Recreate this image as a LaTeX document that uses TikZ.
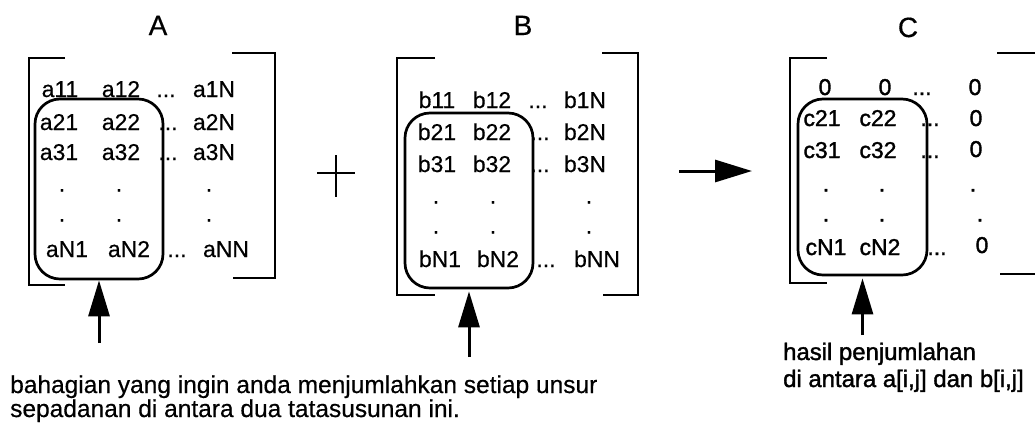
\documentclass[tikz,border=0pt]{standalone}
\usepackage{fontspec}
\setmainfont{Liberation Sans}
\newfontfamily\medium[FakeBold=0.5]{Liberation Sans}
\newfontfamily\heavy[FakeBold=1.5]{Liberation Sans}
\usetikzlibrary{arrows.meta}
\begin{document}
\begin{tikzpicture}[x=1bp,y=-1bp,
  ttl/.style={font=\medium\fontsize{28}{30}\selectfont, inner sep=0, anchor=base},
  ent/.style={font=\medium\fontsize{23}{26}\selectfont, inner sep=0, anchor=base},
  entc/.style={font=\heavy\fontsize{23}{26}\selectfont, inner sep=0, anchor=base},
  brk/.style={line width=2.6bp},
  selbox/.style={draw, line width=2.7bp, rounded corners=25bp, inner sep=0},
  ptr/.style={line width=3bp, -{Triangle[length=36bp,width=21bp]}},
  note/.style={font=\medium\fontsize{24.6}{26}\selectfont, inner sep=0, anchor=base west},
  notec/.style={font=\heavy\fontsize{24}{26}\selectfont, inner sep=0, anchor=base west}]
\useasboundingbox (0,0) rectangle (1035,432);

% ---------- titles ----------
\node[ttl] (tA) at (158,35) {A};
\node[ttl] (tB) at (523,35) {B};
\node[ttl] (tC) at (908,37) {C};

% ---------- brackets ----------
\draw[brk] (65,58) -- (29,58) -- (29,285) -- (65,285);
\draw[brk] (232,53) -- (275,53) -- (275,278) -- (233,278);
\draw[brk] (435,58) -- (397,58) -- (397,295) -- (435,295);
\draw[brk] (602,53) -- (638,53) -- (638,295) -- (603,295);
\draw[brk] (827,58) -- (790,58) -- (790,283) -- (827,283);
\draw[brk] (997,53) -- (1036,53);
\draw[brk] (1000,274) -- (1036,274);

% ---------- matrix A ----------
\node[ent] (a11) at (60,97) {a11};
\node[ent] (a12) at (121,97) {a12};
\node[ent] (a1d) at (166,97) {...};
\node[ent] (a1N) at (214,97) {a1N};
\node[ent] (a21) at (59,130) {a21};
\node[ent] (a22) at (121,130) {a22};
\node[ent] (a2d) at (168,130) {...};
\node[ent] (a2N) at (214,130) {a2N};
\node[ent] (a31) at (59,160) {a31};
\node[ent] (a32) at (121,160) {a32};
\node[ent] (a3d) at (168,160) {...};
\node[ent] (a3N) at (214,160) {a3N};
\node[ent] (ad1) at (62,191.5) {.};
\node[ent] (ad2) at (119,191.5) {.};
\node[ent] (ad3) at (209,191.5) {.};
\node[ent] (ae1) at (62,221.5) {.};
\node[ent] (ae2) at (119,221.5) {.};
\node[ent] (ae3) at (209,221.5) {.};
\node[ent] (aN1) at (67,257) {aN1};
\node[ent] (aN2) at (129,257) {aN2};
\node[ent] (aNd) at (177,257) {...};
\node[ent] (aNN) at (226,257) {aNN};
\node[selbox, minimum width=128bp, minimum height=180bp] (boxA) at (99,189) {};

% ---------- plus ----------
\draw[line width=2.5bp] (317,173) -- (355,173) (336,155) -- (336,197);

% ---------- matrix B ----------
\node[ent] (b11) at (437,108) {b11};
\node[ent] (b12) at (492,108) {b12};
\node[ent] (b1d) at (538,108) {...};
\node[ent] (b1N) at (585,108) {b1N};
\node[ent] (b21) at (437,140) {b21};
\node[ent] (b22) at (492,140) {b22};
\node[ent] (b2d) at (540,140) {...};
\node[ent] (b2N) at (585,140) {b2N};
\node[ent] (b31) at (437,172) {b31};
\node[ent] (b32) at (492,172) {b32};
\node[ent] (b3d) at (540,172) {...};
\node[ent] (b3N) at (585,172) {b3N};
\node[ent] (bd1) at (436,203.5) {.};
\node[ent] (bd2) at (493,203.5) {.};
\node[ent] (bd3) at (589,203.5) {.};
\node[ent] (be1) at (436,233.5) {.};
\node[ent] (be2) at (493,233.5) {.};
\node[ent] (be3) at (589,233.5) {.};
\node[ent] (bN1) at (440,267) {bN1};
\node[ent] (bN2) at (498,267) {bN2};
\node[ent] (bNd) at (546,267) {...};
\node[ent] (bNN) at (597,267) {bNN};
\node[selbox, minimum width=128bp, minimum height=175bp] (boxB) at (469,200.5) {};

% ---------- arrow B -> C ----------
\coordinate (r1) at (679,171);
\coordinate (r2) at (752,171);
\draw[line width=3bp, -{Triangle[length=37bp,width=22bp]}] (r1) -- (r2);

% ---------- matrix C ----------
\node[entc] (c11) at (825,95) {0};
\node[entc] (c12) at (885,95) {0};
\node[entc] (c1d) at (922,95) {...};
\node[entc] (c1N) at (975,95) {0};
\node[entc] (c21) at (822,126) {c21};
\node[entc] (c22) at (878,126) {c22};
\node[entc] (c2d) at (930,126) {...};
\node[entc] (c2N) at (976,126) {0};
\node[entc] (c31) at (822,158) {c31};
\node[entc] (c32) at (878,158) {c32};
\node[entc] (c3d) at (930,158) {...};
\node[entc] (c3N) at (976,157) {0};
\node[entc] (cd1) at (826,191.5) {.};
\node[entc] (cd2) at (882,191.5) {.};
\node[entc] (cd3) at (973,191.5) {.};
\node[entc] (ce1) at (826,221.5) {.};
\node[entc] (ce2) at (882,221.5) {.};
\node[entc] (ce3) at (980,221.5) {.};
\node[entc] (cN1) at (826,255) {cN1};
\node[entc] (cN2) at (880,255) {cN2};
\node[entc] (cNd) at (937,255) {...};
\node[entc] (cNN) at (982,253) {0};
\node[selbox, minimum width=129bp, minimum height=176bp] (boxC) at (862.5,187) {};

% ---------- pointers ----------
\coordinate (pA) at (99,343);
\coordinate (pB) at (469,357);
\coordinate (pC) at (862.5,335);
\draw[ptr] (pA) -- (boxA.south);
\draw[ptr] (pB) -- ([yshift=-2bp]boxB.south);
\draw[ptr] (pC) -- ([yshift=-2bp]boxC.south);

% ---------- notes ----------
\node[note] (n1) at (10,393) {bahagian yang ingin anda menjumlahkan setiap unsur};
\node[note] (n2) at (10,417) {sepadanan di antara dua tatasusunan ini.};
\node[notec] (m1) at (783,360) {hasil penjumlahan};
\node[notec] (m2) at (783,387) {di antara a[i,j] dan b[i,j]};
\end{tikzpicture}
\end{document}
